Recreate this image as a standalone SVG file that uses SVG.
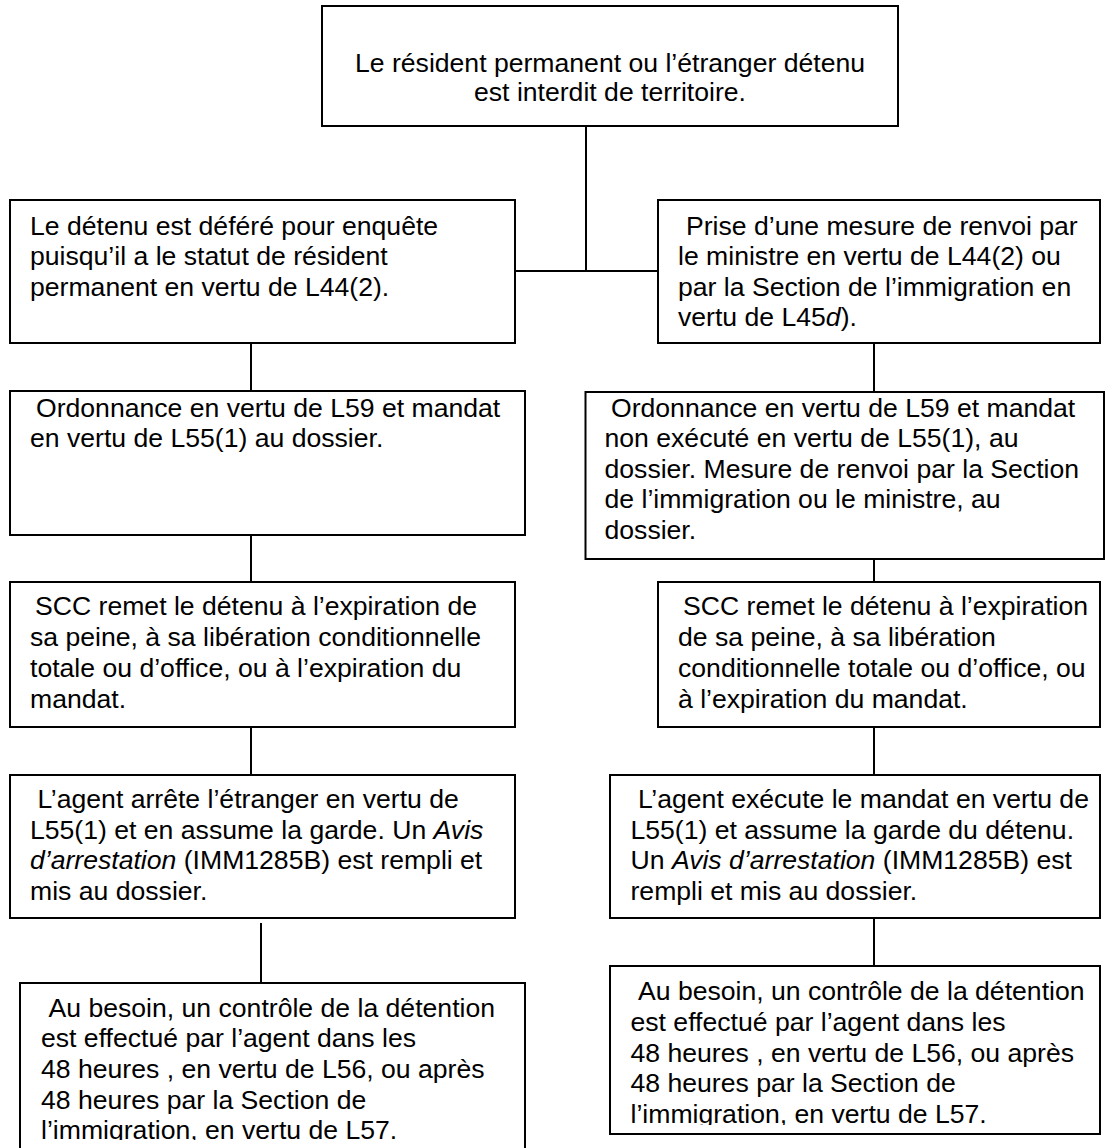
<svg xmlns="http://www.w3.org/2000/svg" width="1111" height="1148" viewBox="0 0 1111 1148">
<style>
.box{fill:#fff;stroke:#000;stroke-width:2}
.con{stroke:#000;stroke-width:2;fill:none}
.t{font-family:"Liberation Sans",Arial,sans-serif;font-size:26.6px;fill:#000}
.i{font-style:italic}
</style>
<defs>
<clipPath id="clipL6"><rect x="20" y="983" width="505" height="157"/></clipPath>
<clipPath id="clipR6"><rect x="610" y="966" width="490" height="159"/></clipPath>
</defs>
<rect width="1111" height="1148" fill="#fff"/>
<g id="connectors">
<line class="con" x1="586" y1="126" x2="586" y2="271"/>
<line class="con" x1="515" y1="271" x2="658" y2="271"/>
<line class="con" x1="251" y1="343" x2="251" y2="391"/>
<line class="con" x1="251" y1="535" x2="251" y2="582"/>
<line class="con" x1="251" y1="727" x2="251" y2="775"/>
<line class="con" x1="261" y1="923" x2="261" y2="983"/>
<line class="con" x1="874" y1="343" x2="874" y2="392"/>
<line class="con" x1="874" y1="559" x2="874" y2="582"/>
<line class="con" x1="874" y1="727" x2="874" y2="775"/>
<line class="con" x1="874" y1="918" x2="874" y2="966"/>
</g>
<g id="top">
<rect class="box" x="322" y="6" width="576" height="120"/>
<text class="t" text-anchor="middle"><tspan x="610" y="72">Le résident permanent ou l’étranger détenu</tspan><tspan x="610" y="101">est interdit de territoire.</tspan></text>
</g>
<g id="left2">
<rect class="box" x="10" y="200" width="505" height="143"/>
<text class="t"><tspan x="30" y="234.5">Le détenu est déféré pour enquête</tspan><tspan x="30" y="265">puisqu’il a le statut de résident</tspan><tspan x="30" y="295.5">permanent en vertu de L44(2).</tspan></text>
</g>
<g id="right2">
<rect class="box" x="658" y="200" width="442" height="143"/>
<text class="t"><tspan x="686" y="234.5">Prise d’une mesure de renvoi par</tspan><tspan x="678" y="265">le ministre en vertu de L44(2) ou</tspan><tspan x="678" y="295.5">par la Section de l’immigration en</tspan><tspan x="678" y="326">vertu de L45<tspan class="i">d</tspan>).</tspan></text>
</g>
<g id="left3">
<rect class="box" x="10" y="391" width="515" height="144"/>
<text class="t"><tspan x="36" y="416.5">Ordonnance en vertu de L59 et mandat</tspan><tspan x="30" y="447">en vertu de L55(1) au dossier.</tspan></text>
</g>
<g id="right3">
<rect class="box" x="585.5" y="392" width="518.5" height="167"/>
<text class="t"><tspan x="611" y="416.5">Ordonnance en vertu de L59 et mandat</tspan><tspan x="604.5" y="447">non exécuté en vertu de L55(1), au</tspan><tspan x="604.5" y="477.5">dossier. Mesure de renvoi par la Section</tspan><tspan x="604.5" y="508">de l’immigration ou le ministre, au</tspan><tspan x="604.5" y="538.5">dossier.</tspan></text>
</g>
<g id="left4">
<rect class="box" x="10" y="582" width="505" height="145"/>
<text class="t"><tspan x="35" y="615">SCC remet le détenu à l’expiration de</tspan><tspan x="30" y="646">sa peine, à sa libération conditionnelle</tspan><tspan x="30" y="677">totale ou d’office, ou à l’expiration du</tspan><tspan x="30" y="708">mandat.</tspan></text>
</g>
<g id="right4">
<rect class="box" x="658" y="582" width="442" height="145"/>
<text class="t"><tspan x="683" y="615">SCC remet le détenu à l’expiration</tspan><tspan x="678" y="646">de sa peine, à sa libération</tspan><tspan x="678" y="677">conditionnelle totale ou d’office, ou</tspan><tspan x="678" y="708">à l’expiration du mandat.</tspan></text>
</g>
<g id="left5">
<rect class="box" x="10" y="775" width="505" height="143"/>
<text class="t"><tspan x="37.5" y="808">L’agent arrête l’étranger en vertu de</tspan><tspan x="30" y="838.5">L55(1) et en assume la garde. Un <tspan class="i">Avis</tspan></tspan><tspan x="30" y="869"><tspan class="i">d’arrestation</tspan> (IMM1285B) est rempli et</tspan><tspan x="30" y="899.5">mis au dossier.</tspan></text>
</g>
<g id="right5">
<rect class="box" x="610" y="775" width="490" height="143"/>
<text class="t"><tspan x="638" y="808">L’agent exécute le mandat en vertu de</tspan><tspan x="630.5" y="838.5">L55(1) et assume la garde du détenu.</tspan><tspan x="630.5" y="869">Un <tspan class="i">Avis d’arrestation</tspan> (IMM1285B) est</tspan><tspan x="630.5" y="899.5">rempli et mis au dossier.</tspan></text>
</g>
<g id="left6">
<rect class="box" x="20" y="983" width="505" height="180"/>
<text class="t" clip-path="url(#clipL6)"><tspan x="48.5" y="1016.5">Au besoin, un contrôle de la détention</tspan><tspan x="41" y="1047">est effectué par l’agent dans les</tspan><tspan x="41" y="1078">48 heures , en vertu de L56, ou après</tspan><tspan x="41" y="1108.5">48 heures par la Section de</tspan><tspan x="41" y="1139">l’immigration, en vertu de L57.</tspan></text>
</g>
<g id="right6">
<rect class="box" x="610" y="966" width="490" height="168"/>
<text class="t" clip-path="url(#clipR6)"><tspan x="638" y="1000">Au besoin, un contrôle de la détention</tspan><tspan x="630.5" y="1031">est effectué par l’agent dans les</tspan><tspan x="630.5" y="1061.5">48 heures , en vertu de L56, ou après</tspan><tspan x="630.5" y="1092">48 heures par la Section de</tspan><tspan x="630.5" y="1122.5">l’immigration, en vertu de L57.</tspan></text>
</g>
</svg>
